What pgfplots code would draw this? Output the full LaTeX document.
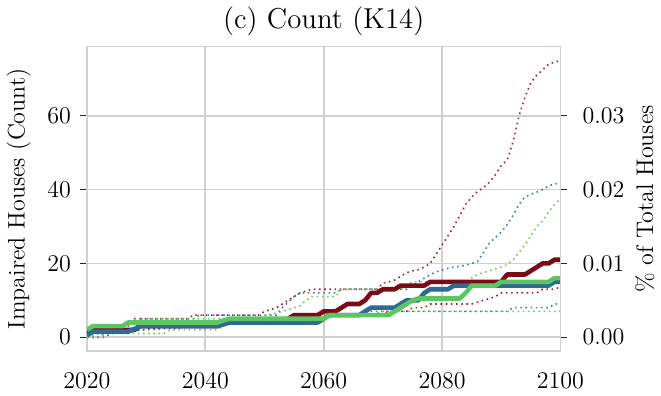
\documentclass[border=0pt]{standalone}
\usepackage{pgfplots}
\pgfplotsset{compat=1.18}
\definecolor{gridc}{HTML}{D0D0D0}
\definecolor{rm}{HTML}{7B0A17}
\definecolor{bm}{HTML}{2E6A93}
\definecolor{gm}{HTML}{5CC662}
\definecolor{rd}{HTML}{B2202E}
\definecolor{bd}{HTML}{3B7EA6}
\definecolor{gd}{HTML}{74C95A}
\begin{document}
\begin{tikzpicture}
\pgfplotsset{
  base/.style={
    scale only axis, width=236.9pt, height=152.35pt,
    xmin=2020, xmax=2100,
    tick label style={font=\fontsize{12}{14}\selectfont},
    label style={font=\fontsize{12}{14}\selectfont},
    axis line style={line width=0.9pt, gridc},
    tick align=outside,
    major tick length=3.5pt,
  },
  thick/.style={line width=2.3pt, line join=round},
  dot/.style={line width=0.8pt, dash pattern=on 0.8pt off 1.8pt},
}
\begin{axis}[
  base,
  ymin=-3.75, ymax=78.75,
  ytick={0,20,40,60},
  xtick={2020,2040,2060,2080,2100},
  grid=major,
  grid style={line width=0.9pt, gridc},
  ytick pos=left,
  xtick pos=bottom,
  xtick style={draw=none},
  ytick style={line width=0.6pt, black!85},
  title={(c) Count (K14)},
  title style={font=\fontsize{14.4}{17}\selectfont, yshift=-4pt},
  ylabel={Impaired Houses (Count)},
  ylabel shift=1.5pt,
  yticklabel shift=1pt,
  xticklabel shift=4pt,
  x tick label style={/pgf/number format/1000 sep={}},
]
% red upper dotted
\addplot[rd, dot] coordinates {(2020,0)(2022,0)(2023,1)(2025,3)(2027,4)(2028,5)(2037,5)(2038,6)(2049,6)(2050,7)(2052,8)(2053,9)(2054,10)(2055,11)(2056,12)(2058,13)(2069,13)(2070,14.7)(2071,15)(2072,15.5)(2073,16.5)(2074,17.5)(2075,18)(2076,18.3)(2077,19)(2078,20)(2079,22.5)(2080,25)(2081,27.5)(2082,30)(2083,33)(2084,36)(2085,38)(2086,39.5)(2087,40.5)(2088,42)(2089,44)(2090,46.5)(2091,48)(2092,53)(2093,60)(2094,65)(2095,69)(2096,71)(2097,72.5)(2098,74)(2099,74.5)(2100,75)};
% red lower dotted
\addplot[rd, dot] coordinates {(2020,0)(2022,0)(2023,1)(2029,2)(2035,3)(2044,4)(2052,5)(2058,6)(2070,6)(2071,7)(2074,7)(2075,8)(2077,8)(2078,9)(2085,9)(2086,9.5)(2087,10)(2088,10.5)(2089,11)(2090,12)(2096,12)(2097,13)(2099,13)(2100,13.7)};
% blue upper dotted
\addplot[bd, dot] coordinates {(2020,1)(2022,1)(2024,2)(2027,3)(2029,5)(2038,5)(2039,6)(2052,6)(2053,8)(2054,9.5)(2055,11)(2056,12)(2062,12)(2063,13)(2074,13)(2075,14)(2076,15)(2077,16)(2078,17)(2079,17.7)(2080,18.2)(2081,18.7)(2082,19)(2084,19.5)(2085,20)(2086,20.5)(2087,23)(2088,25.5)(2089,27)(2090,28.5)(2091,30.5)(2092,33)(2093,36)(2094,38)(2095,38.7)(2096,39.3)(2097,40)(2098,41)(2099,41.5)(2100,41.8)};
% blue lower dotted
\addplot[bd, dot] coordinates {(2020,0)(2023,0)(2024,1)(2030,2)(2040,3)(2045,4)(2052,5)(2060,5.5)(2064,6)(2068,7)(2091,7)(2092,8)(2098,8)(2099,9)(2100,9)};
% green upper dotted
\addplot[gd, dot] coordinates {(2020,0)(2022,1)(2024,2)(2027,2)(2029,3)(2031,5)(2049,5)(2050,6)(2052,6.5)(2054,7.5)(2056,8.5)(2057,10)(2058,11)(2062,11)(2063,13)(2073,13)(2074,14)(2075,15)(2084,15)(2085,16)(2086,17)(2088,18)(2090,19)(2091,19.6)(2092,21)(2093,23)(2094,25)(2095,27.5)(2096,30)(2097,31.5)(2098,34)(2099,36)(2100,37.5)};
% green lower dotted
\addplot[gd, dot] coordinates {(2020,0)(2022,0)(2023,1)(2033,1)(2034,2)(2042,2)(2043,3)(2044,4)(2049,4)(2051,5)(2060,5)(2062,6)(2068,6)(2070,7)(2100,7)};
% medians
\addplot[rm, thick] coordinates {(2020,1)(2021,2)(2028,2)(2029,3)(2042,3)(2044,4)(2053,4)(2054,5)(2055,6)(2059,6)(2060,7)(2062,7)(2063,8)(2064,9)(2066,9)(2067,10)(2068,12)(2069,12)(2070,13)(2072,13)(2073,14)(2077,14)(2078,15)(2090,15)(2091,17)(2094,17)(2095,18)(2096,19)(2097,20)(2098,20)(2099,21)(2100,21)};
\addplot[bm, thick] coordinates {(2020,0.5)(2021,1.5)(2027,1.5)(2029,3)(2042,3)(2044,4)(2059,4)(2060,5)(2061,6)(2066,6)(2067,7)(2068,8)(2072,8)(2073,9)(2074,10)(2076,10)(2077,12)(2078,13)(2081,13)(2082,14)(2098,14)(2099,15)(2100,15)};
\addplot[gm, thick] coordinates {(2020,2)(2021,3)(2026,3)(2027,4)(2042,4)(2044,5)(2060,5)(2061,6)(2071,6)(2072,7)(2073,8)(2074,9)(2075,10)(2076,10.5)(2083,10.5)(2084,12)(2085,14)(2089,14)(2090,15)(2098,15)(2099,16)(2100,16)};
\end{axis}
\begin{axis}[
  base,
  ymin=-0.001875, ymax=0.039375,
  ytick={0,0.01,0.02,0.03},
  axis x line=none,
  axis y line*=right,
  ytick style={line width=0.6pt, black!85},
  scaled y ticks=false,
  yticklabel shift=4pt,
  ylabel shift=-1.5pt,
  yticklabel style={/pgf/number format/fixed, /pgf/number format/precision=2, /pgf/number format/fixed zerofill},
  ylabel={\% of Total Houses},
]
\addplot[draw=none] coordinates {(2020,0)(2100,0)};
\end{axis}
\end{tikzpicture}
\end{document}
